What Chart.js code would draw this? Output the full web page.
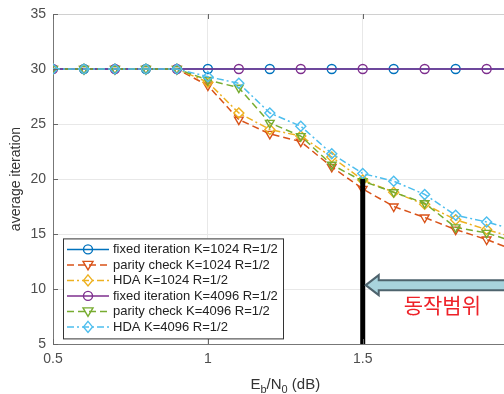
<!DOCTYPE html>
<html>
<head>
<meta charset="utf-8">
<script src="https://cdn.jsdelivr.net/npm/chart.js"></script>
<style>
  html, body { margin: 0; padding: 0; background: #fff; overflow: hidden; }
  #wrap { width: 504px; height: 394px; overflow: hidden; }
</style>
</head>
<body>
<div id="wrap"><canvas id="chart" width="524" height="394"></canvas></div>
<script>
// 데이터
const ebn0 = [0.5, 0.6, 0.7, 0.8, 0.9, 1.0, 1.1, 1.2, 1.3, 1.4, 1.5, 1.6, 1.7, 1.8, 1.9, 2.0];
const fixed1024 = [30, 30, 30, 30, 30, 30, 30, 30, 30, 30, 30, 30, 30, 30, 30, 30];
const parity1024 = [30, 30, 30, 30, 30, 28.5, 25.4, 24.1, 23.4, 21.1, 19.1, 17.5, 16.5, 15.4, 14.5, 13.4];
const hda1024 = [30, 30, 30, 30, 30, 28.8, 26.0, 24.5, 23.9, 22.0, 19.9, 18.8, 17.7, 16.3, 15.4, 14.6];
const fixed4096 = [30, 30, 30, 30, 30, 30, 30, 30, 30, 30, 30, 30, 30, 30, 30, 30];
const parity4096 = [30, 30, 30, 30, 30, 29.0, 28.3, 25.1, 23.9, 21.3, 19.8, 18.8, 17.8, 15.6, 15.1, 14.2];
const hda4096 = [30, 30, 30, 30, 30, 29.3, 28.7, 26.0, 24.8, 22.3, 20.5, 19.8, 18.6, 16.7, 16.1, 15.3];
const seriesNames = [
  'fixed iteration K=1024 R=1/2',
  'parity check K=1024 R=1/2',
  'HDA K=1024 R=1/2',
  'fixed iteration K=4096 R=1/2',
  'parity check K=4096 R=1/2',
  'HDA K=4096 R=1/2'
];
const rangeX = [1.5, 1.5];   // 동작범위 경계선
const rangeY = [20, 5];

const colors = ['#0072BD', '#D95319', '#EDB120', '#7E2F8E', '#77AC30', '#4DBEEE'];
const DASH = [7, 4];
const DASHDOT = [7, 3, 2, 3];
const FONT = '"Liberation Sans", Arial, sans-serif';

function pts(ys) {
  return ys.map((y, i) => ({ x: ebn0[i], y: y }));
}

function makeSet(i, ys, style, marker) {
  return {
    label: seriesNames[i],
    data: pts(ys),
    borderColor: colors[i],
    borderWidth: 1.5,
    borderDash: style,
    pointStyle: marker === 'v' ? 'triangle' : (marker === 'd' ? 'rectRot' : 'circle'),
    pointRotation: marker === 'v' ? 180 : 0,
    pointRadius: marker === 'o' ? 4.5 : 5,
    pointBorderColor: colors[i],
    pointBackgroundColor: 'rgba(0,0,0,0)',
    pointBorderWidth: 1.4,
    fill: false,
    tension: 0,
    order: 10 - i,
    _marker: marker,
    _dash: style
  };
}

const sets = [
  makeSet(0, fixed1024, [], 'o'),
  makeSet(1, parity1024, DASH, 'v'),
  makeSet(2, hda1024, DASHDOT, 'd'),
  makeSet(3, fixed4096, [], 'o'),
  makeSet(4, parity4096, DASH, 'v'),
  makeSet(5, hda4096, DASHDOT, 'd')
];
// 두 fixed 곡선은 마커를 번갈아 표시
sets[0].pointRadius = ctx => (ctx.dataIndex % 2 === 1 ? 4.5 : 0);
sets[3].pointRadius = ctx => (ctx.dataIndex % 2 === 0 ? 4.5 : 0);

sets.push({
  label: 'range',
  data: rangeX.map((x, i) => ({ x: x, y: rangeY[i] })),
  borderColor: '#000',
  borderWidth: 5,
  pointRadius: 0,
  order: -1
});

function drawMarker(ctx, m, x, y, color) {
  ctx.save();
  ctx.setLineDash([]);
  ctx.strokeStyle = color;
  ctx.lineWidth = 1.4;
  ctx.beginPath();
  if (m === 'o') {
    ctx.arc(x, y, 4.5, 0, Math.PI * 2);
  } else if (m === 'v') {
    ctx.moveTo(x - 5, y - 3.5);
    ctx.lineTo(x + 5, y - 3.5);
    ctx.lineTo(x, y + 5);
    ctx.closePath();
  } else {
    ctx.moveTo(x, y - 5.5);
    ctx.lineTo(x + 4.5, y);
    ctx.lineTo(x, y + 5.5);
    ctx.lineTo(x - 4.5, y);
    ctx.closePath();
  }
  ctx.stroke();
  ctx.restore();
}

const extras = {
  id: 'extras',
  afterDraw(chart) {
    const ctx = chart.ctx;
    const xs = chart.scales.x, ys = chart.scales.y;
    const a = chart.chartArea;

    ctx.save();
    // 위쪽 테두리 + 안쪽 눈금
    ctx.strokeStyle = '#d0d0d0';
    ctx.lineWidth = 1;
    ctx.beginPath();
    ctx.moveTo(a.left, a.top + 0.5);
    ctx.lineTo(a.right, a.top + 0.5);
    ctx.stroke();
    ctx.strokeStyle = '#666';
    ctx.beginPath();
    xs.ticks.forEach(t => {
      const px = Math.round(xs.getPixelForValue(t.value)) + 0.5;
      ctx.moveTo(px, a.top); ctx.lineTo(px, a.top + 5);
      ctx.moveTo(px, a.bottom); ctx.lineTo(px, a.bottom - 5);
    });
    ys.ticks.forEach(t => {
      const py = Math.round(ys.getPixelForValue(t.value)) + 0.5;
      ctx.moveTo(a.left, py); ctx.lineTo(a.left + 5, py);
    });
    ctx.stroke();

    // 화살표
    const tipX = xs.getPixelForValue(1.5) + 3;
    const cy = ys.getPixelForValue(10.35);
    const endX = a.right + 20;
    ctx.fillStyle = '#a8d3dd';
    ctx.strokeStyle = '#4e636d';
    ctx.lineWidth = 2;
    ctx.beginPath();
    ctx.moveTo(tipX, cy);
    ctx.lineTo(tipX + 13, cy - 10);
    ctx.lineTo(tipX + 13, cy - 5);
    ctx.lineTo(endX, cy - 5);
    ctx.lineTo(endX, cy + 5);
    ctx.lineTo(tipX + 13, cy + 5);
    ctx.lineTo(tipX + 13, cy + 10);
    ctx.closePath();
    ctx.fill();
    ctx.stroke();

    ctx.fillStyle = '#ee2229';
    ctx.font = '21px "Noto Sans CJK KR"';
    ctx.textAlign = 'center';
    ctx.textBaseline = 'middle';
    ctx.fillText('동작범위', xs.getPixelForValue(1.757), ys.getPixelForValue(8.5));

    // 범례
    const lx = a.left + 10, ly = ys.getPixelForValue(14.6);
    const lw = 220, lh = 100;
    ctx.fillStyle = '#fff';
    ctx.fillRect(lx, ly, lw, lh);
    ctx.strokeStyle = '#333';
    ctx.lineWidth = 1;
    ctx.strokeRect(lx + 0.5, ly + 0.5, lw, lh);
    ctx.font = '13px ' + FONT;
    ctx.textAlign = 'left';
    ctx.textBaseline = 'middle';
    for (let i = 0; i < 6; i++) {
      const d = chart.data.datasets[i];
      const ry = ly + 11 + i * 15.5;
      ctx.strokeStyle = d.borderColor;
      ctx.lineWidth = 1.5;
      ctx.setLineDash(d._dash);
      ctx.beginPath();
      ctx.moveTo(lx + 4, ry);
      ctx.lineTo(lx + 46, ry);
      ctx.stroke();
      ctx.setLineDash([]);
      drawMarker(ctx, d._marker, lx + 25, ry, d.borderColor);
      ctx.fillStyle = '#222';
      ctx.fillText(d.label, lx + 50, ry + 0.5);
    }

    // x축 제목 (아래첨자)
    ctx.fillStyle = '#333';
    ctx.textBaseline = 'alphabetic';
    const big = '15px ' + FONT;
    const small = '11px ' + FONT;
    const parts = [['E', big, 0], ['b', small, 4], ['/N', big, 0], ['0', small, 4], [' (dB)', big, 0]];
    let w = 0;
    parts.forEach(p => { ctx.font = p[1]; w += ctx.measureText(p[0]).width; });
    let x = (a.left + a.right) / 2 - w / 2;
    const base = 389;
    parts.forEach(p => {
      ctx.font = p[1];
      ctx.fillText(p[0], x, base + p[2]);
      x += ctx.measureText(p[0]).width;
    });
    ctx.restore();
  }
};

new Chart(document.getElementById('chart'), {
  type: 'line',
  data: { datasets: sets },
  options: {
    responsive: false,
    animation: false,
    layout: { padding: { top: 14, right: 6, left: 0, bottom: 0 } },
    plugins: {
      legend: { display: false },
      tooltip: { enabled: false }
    },
    scales: {
      x: {
        type: 'linear',
        min: 0.5,
        max: 2,
        ticks: {
          stepSize: 0.5,
          padding: 7,
          color: '#4d4d4d',
          font: { size: 14, family: FONT },
          callback: v => String(Number(v))
        },
        grid: { color: '#e8e8e8', drawTicks: false },
        border: { color: '#777', width: 1 },
        afterFit: s => { s.height = 50; s.paddingRight = 0; s.paddingLeft = 0; }
      },
      y: {
        min: 5,
        max: 35,
        ticks: {
          stepSize: 5,
          padding: 7,
          color: '#4d4d4d',
          font: { size: 14, family: FONT },
          callback: v => String(Number(v))
        },
        grid: { color: '#e8e8e8', drawTicks: false },
        border: { color: '#777', width: 1 },
        title: {
          display: true,
          text: 'average iteration',
          color: '#333',
          padding: { top: 8, bottom: 0 },
          font: { size: 14, family: FONT }
        },
        afterFit: s => { s.width = 53; s.paddingTop = 0; s.paddingBottom = 0; }
      }
    }
  },
  plugins: [extras]
});
</script>
</body>
</html>
